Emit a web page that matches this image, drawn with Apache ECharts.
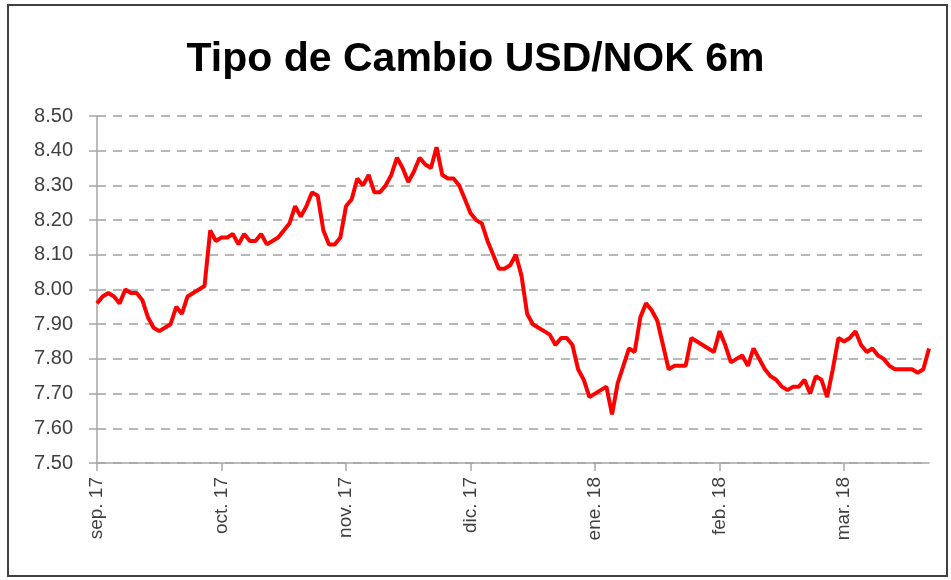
<!DOCTYPE html>
<html>
<head>
<meta charset="utf-8">
<script src="https://cdn.jsdelivr.net/npm/echarts@6/dist/echarts.min.js"></script>
<style>
  html, body { margin: 0; padding: 0; background: #fff; }
  #chartBox { width: 951px; height: 580px; }
</style>
</head>
<body>
<div id="chartBox"></div>
<script>
// etiquetas de meses (una cada 22 datos)
const tickLabels = ['sep. 17', 'oct. 17', 'nov. 17', 'dic. 17', 'ene. 18', 'feb. 18', 'mar. 18']
const labelStep = 22

// USD/NOK diario
const rates = [
  7.96, 7.98, 7.99, 7.98, 7.96, 8.00, 7.99, 7.99, 7.97, 7.92,
  7.89, 7.88, 7.89, 7.90, 7.95, 7.93, 7.98, 7.99, 8.00, 8.01,
  8.17, 8.14, 8.15, 8.15, 8.16, 8.13, 8.16, 8.14, 8.14, 8.16,
  8.13, 8.14, 8.15, 8.17, 8.19, 8.24, 8.21, 8.24, 8.28, 8.27,
  8.17, 8.13, 8.13, 8.15, 8.24, 8.26, 8.32, 8.30, 8.33, 8.28,
  8.28, 8.30, 8.33, 8.38, 8.35, 8.31, 8.34, 8.38, 8.36, 8.35,
  8.41, 8.33, 8.32, 8.32, 8.30, 8.26, 8.22, 8.20, 8.19, 8.14,
  8.10, 8.06, 8.06, 8.07, 8.10, 8.04, 7.93, 7.90, 7.89, 7.88,
  7.87, 7.84, 7.86, 7.86, 7.84, 7.77, 7.74, 7.69, 7.70, 7.71,
  7.72, 7.64, 7.73, 7.78, 7.83, 7.82, 7.92, 7.96, 7.94, 7.91,
  7.84, 7.77, 7.78, 7.78, 7.78, 7.86, 7.85, 7.84, 7.83, 7.82,
  7.88, 7.84, 7.79, 7.80, 7.81, 7.78, 7.83, 7.80, 7.77, 7.75,
  7.74, 7.72, 7.71, 7.72, 7.72, 7.74, 7.70, 7.75, 7.74, 7.69,
  7.77, 7.86, 7.85, 7.86, 7.88, 7.84, 7.82, 7.83, 7.81, 7.80,
  7.78, 7.77, 7.77, 7.77, 7.77, 7.76, 7.77, 7.83
]

const days = rates.map((v, i) => i % labelStep === 0 ? tickLabels[i / labelStep] : '')

let myChart = echarts.init(document.getElementById('chartBox'))
myChart.setOption({
  animation: false,
  title: {
    text: 'Tipo de Cambio USD/NOK 6m',
    left: 'center',
    top: 34,
    textStyle: {
      fontFamily: 'Liberation Sans',
      fontWeight: 'bold',
      fontSize: 41,
      color: '#000'
    }
  },
  grid: {
    left: 97,
    right: 22,
    top: 116,
    bottom: 117
  },
  graphic: [{
    type: 'rect',
    shape: { x: 8, y: 5, width: 939, height: 571 },
    style: { fill: 'none', stroke: '#404040', lineWidth: 2 }
  }],
  xAxis: {
    type: 'category',
    boundaryGap: false,
    data: days,
    axisLine: { lineStyle: { color: '#a6a6a6', width: 1.5 } },
    axisTick: {
      length: 8,
      interval: (i) => i % labelStep === 0,
      lineStyle: { color: '#a6a6a6', width: 1.5 }
    },
    axisLabel: {
      interval: (i) => i % labelStep === 0,
      rotate: 90,
      margin: 14,
      fontFamily: 'Liberation Sans',
      fontSize: 19,
      color: '#404040'
    },
    splitLine: { show: false }
  },
  yAxis: {
    type: 'value',
    min: 7.5,
    max: 8.5,
    interval: 0.1,
    axisLine: { show: true, lineStyle: { color: '#a6a6a6', width: 1.5 } },
    axisTick: { show: true, length: 8, lineStyle: { color: '#a6a6a6', width: 1.5 } },
    axisLabel: {
      margin: 24,
      fontFamily: 'Liberation Sans',
      fontSize: 20,
      color: '#404040',
      formatter: (v) => v.toFixed(2)
    },
    splitLine: {
      lineStyle: { color: '#a0a0a0', width: 1.5, type: [9, 7] }
    }
  },
  series: [{
    name: 'USD/NOK',
    type: 'line',
    data: rates,
    symbol: 'none',
    lineStyle: { color: '#ff0000', width: 4 }
  }]
})
</script>
</body>
</html>
